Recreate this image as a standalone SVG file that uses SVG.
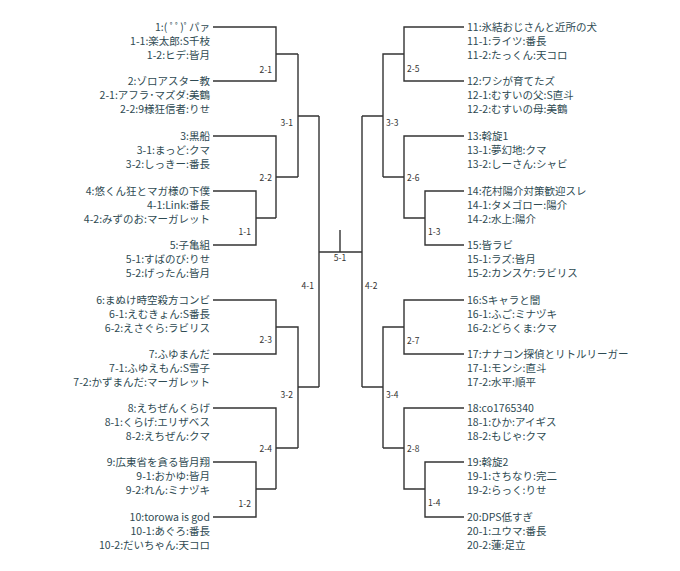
<svg xmlns="http://www.w3.org/2000/svg" width="680" height="571" viewBox="0 0 680 571">
<style>
text{font-family:"Noto Sans CJK JP","DejaVu Sans",sans-serif;font-size:10.5px;fill:#2e4a52}
.l text{text-anchor:end}
.m{font-size:8.5px;fill:#333}
.e{text-anchor:end}
#conn path{fill:none;stroke:#333;stroke-width:1.4}
</style>
<rect width="680" height="571" fill="#fff"/>
<g id="conn">
<path d="M213 27H276V81H213M276 54H298M298 54V177M298 116H319"/>
<path d="M213 136H276V218M256 218H276M276 177H298"/>
<path d="M213 191H256V245H213"/>
<path d="M319 116V387M319 252H362M340 230V252M362 116V387"/>
<path d="M213 300H276V354H213M276 327H298V448M298 387H319"/>
<path d="M213 408H276V489M256 489H276M276 448H298"/>
<path d="M213 462H256V517H213"/>
<path d="M464 27H404V81H464M404 54H383V177M383 116H362"/>
<path d="M464 136H404V218H425M404 177H383"/>
<path d="M464 191H425V245H464"/>
<path d="M464 300H404V354H464M404 327H383V448M383 387H362"/>
<path d="M464 408H404V489H425M404 448H383"/>
<path d="M464 462H425V517H464"/>
</g>
<g id="labels">
<text class="m e" x="272" y="73">2-1</text>
<text class="m e" x="293" y="126">3-1</text>
<text class="m e" x="272" y="181">2-2</text>
<text class="m e" x="251" y="235">1-1</text>
<text class="m" x="340" y="261" text-anchor="middle">5-1</text>
<text class="m e" x="314" y="289">4-1</text>
<text class="m e" x="272" y="343">2-3</text>
<text class="m e" x="293" y="398">3-2</text>
<text class="m e" x="272" y="452">2-4</text>
<text class="m e" x="251" y="507">1-2</text>
<text class="m" x="407" y="72">2-5</text>
<text class="m" x="386" y="126">3-3</text>
<text class="m" x="407" y="181">2-6</text>
<text class="m" x="428" y="235">1-3</text>
<text class="m" x="365" y="289">4-2</text>
<text class="m" x="407" y="344">2-7</text>
<text class="m" x="386" y="398">3-4</text>
<text class="m" x="407" y="452">2-8</text>
<text class="m" x="428" y="506">1-4</text>
</g>
<g class="l">
<g id="t1"><text x="210" y="31">1:( ﾟﾟ)ﾟパァ</text><text x="210" y="45">1-1:楽太郎:S千枝</text><text x="210" y="59">1-2:ヒデ:皆月</text></g>
<g id="t2"><text x="210" y="85">2:ゾロアスター教</text><text x="210" y="99">2-1:アフラ･マズダ:美鶴</text><text x="210" y="113">2-2:9様狂信者:りせ</text></g>
<g id="t3"><text x="210" y="140">3:黒船</text><text x="210" y="154">3-1:まっど:クマ</text><text x="210" y="168">3-2:しっきー:番長</text></g>
<g id="t4"><text x="210" y="195">4:悠くん狂とマガ様の下僕</text><text x="210" y="209">4-1:Link:番長</text><text x="210" y="223">4-2:みずのお:マーガレット</text></g>
<g id="t5"><text x="210" y="249">5:子亀組</text><text x="210" y="263">5-1:すばのび:りせ</text><text x="210" y="277">5-2:げったん:皆月</text></g>
<g id="t6"><text x="210" y="304">6:まぬけ時空殺方コンビ</text><text x="210" y="318">6-1:えむきょん:S番長</text><text x="210" y="332">6-2:えさぐら:ラビリス</text></g>
<g id="t7"><text x="210" y="358">7:ふゆまんだ</text><text x="210" y="372">7-1:ふゆえもん:S雪子</text><text x="210" y="386">7-2:かずまんだ:マーガレット</text></g>
<g id="t8"><text x="210" y="412">8:えちぜんくらげ</text><text x="210" y="426">8-1:くらげ:エリザベス</text><text x="210" y="440">8-2:えちぜん:クマ</text></g>
<g id="t9"><text x="210" y="466">9:広東省を貪る皆月翔</text><text x="210" y="480">9-1:おかゆ:皆月</text><text x="210" y="494">9-2:れん:ミナヅキ</text></g>
<g id="t10"><text x="210" y="521">10:torowa is god</text><text x="210" y="535">10-1:あぐろ:番長</text><text x="210" y="549">10-2:だいちゃん:天コロ</text></g>
</g>
<g>
<g id="t11"><text x="467" y="31">11:氷結おじさんと近所の犬</text><text x="467" y="45">11-1:ライツ:番長</text><text x="467" y="59">11-2:たっくん:天コロ</text></g>
<g id="t12"><text x="467" y="85">12:ワシが育てたズ</text><text x="467" y="99">12-1:むすいの父:S直斗</text><text x="467" y="113">12-2:むすいの母:美鶴</text></g>
<g id="t13"><text x="467" y="140">13:斡旋1</text><text x="467" y="154">13-1:夢幻地:クマ</text><text x="467" y="168">13-2:しーさん:シャビ</text></g>
<g id="t14"><text x="467" y="195">14:花村陽介対策歓迎スレ</text><text x="467" y="209">14-1:タメゴロー:陽介</text><text x="467" y="223">14-2:水上:陽介</text></g>
<g id="t15"><text x="467" y="249">15:皆ラビ</text><text x="467" y="263">15-1:ラズ:皆月</text><text x="467" y="277">15-2:カンスケ:ラビリス</text></g>
<g id="t16"><text x="467" y="304">16:Sキャラと闇</text><text x="467" y="318">16-1:ふご:ミナヅキ</text><text x="467" y="332">16-2:どらくま:クマ</text></g>
<g id="t17"><text x="467" y="358">17:ナナコン探偵とリトルリーガー</text><text x="467" y="372">17-1:モンシ:直斗</text><text x="467" y="386">17-2:水平:順平</text></g>
<g id="t18"><text x="467" y="412">18:co1765340</text><text x="467" y="426">18-1:ひか:アイギス</text><text x="467" y="440">18-2:もじゃ:クマ</text></g>
<g id="t19"><text x="467" y="466">19:斡旋2</text><text x="467" y="480">19-1:さちなり:完二</text><text x="467" y="494">19-2:らっく:りせ</text></g>
<g id="t20"><text x="467" y="521">20:DPS低すぎ</text><text x="467" y="535">20-1:ユウマ:番長</text><text x="467" y="549">20-2:蓮:足立</text></g>
</g>
</svg>
